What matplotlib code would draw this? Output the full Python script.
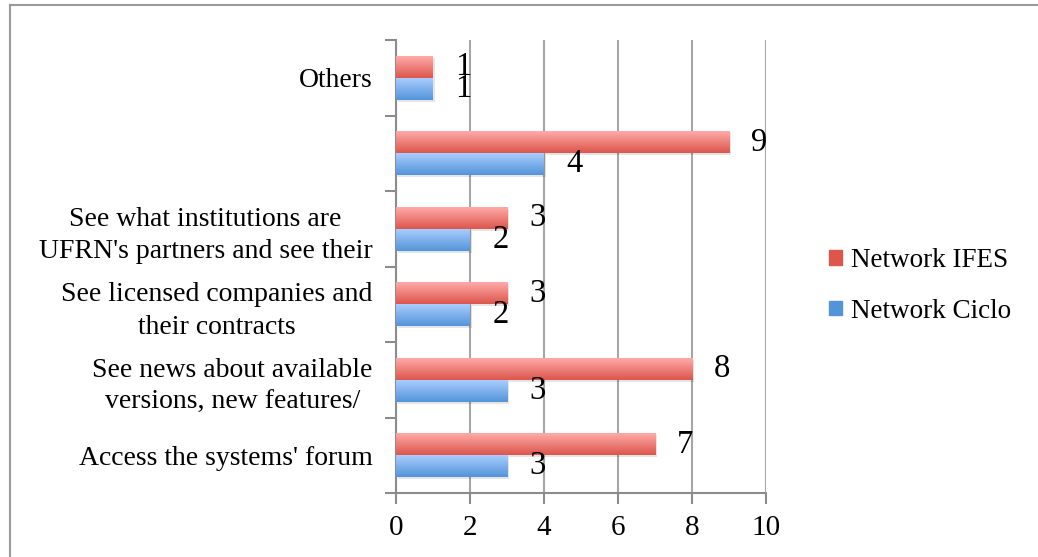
import numpy as np
from matplotlib import pyplot as plt
from matplotlib.lines import Line2D
from matplotlib.patches import Rectangle

plt.rcParams['font.family'] = ['Liberation Serif', 'DejaVu Serif']

# survey answers, bottom category first
categories = ["Access the systems' forum",
              "See news about available\nversions, new features/",
              "See licensed companies and\ntheir contracts",
              "See what institutions are\nUFRN's partners and see their",
              "",
              "Others"]
ifes = [7, 8, 3, 3, 9, 1]
ciclo = [3, 3, 2, 2, 4, 1]

red_top, red_bot = '#ffaaa8', '#dc564c'
blue_top, blue_bot = '#a9cdff', '#5394d9'

fig = plt.figure(figsize=(10.38, 5.57), dpi=100)
ax = fig.add_axes([396/1038, 64/557, 370/1038, 453/557])

# outer frame (top and left edges only visible)
fig.add_artist(Line2D([10/1038, 1], [1-5/557, 1-5/557], color='#9a9a9a', lw=1.5))
fig.add_artist(Line2D([10/1038, 10/1038], [0, 1-5/557], color='#9a9a9a', lw=1.5))

h = 0.29
y = np.arange(len(categories))


def grad_bars(ypos, vals, c_top, c_bot):
    cmap = plt.matplotlib.colors.LinearSegmentedColormap.from_list('g', [c_bot, c_top])
    grad = np.linspace(0, 1, 64).reshape(-1, 1)
    bars = ax.barh(ypos, vals, height=h, color=c_bot, zorder=3)
    for b in bars:
        x0, y0, w, hh = b.get_x(), b.get_y(), b.get_width(), b.get_height()
        # soft shadow
        ax.add_patch(Rectangle((x0 + 0.05, y0 - 0.025), w, hh, color='#000000',
                               alpha=0.10, lw=0, zorder=2))
        im = ax.imshow(grad, cmap=cmap, aspect='auto', origin='lower',
                       extent=[x0, x0 + w, y0, y0 + hh], zorder=4)
        im.set_clip_path(b)
    return bars


rb = grad_bars(y + h/2, ifes, red_top, red_bot)
bb = grad_bars(y - h/2, ciclo, blue_top, blue_bot)

for yy, v in zip(y + h/2, ifes):
    ax.text(v + 0.6, yy, str(v), va='center', ha='left', fontsize=23.5, zorder=5)
for yy, v in zip(y - h/2, ciclo):
    ax.text(v + 0.6, yy, str(v), va='center', ha='left', fontsize=23.5, zorder=5)

ax.set_xlim(0, 10)
ax.set_ylim(-0.5, len(categories) - 0.5)
ax.set_xticks(np.arange(0, 11, 2))
ax.tick_params(axis='x', labelsize=21, length=8, color='#8c8c8c', width=1.5, pad=8)
ax.grid(axis='x', color='#a6a6a6', lw=1.5, zorder=0)

ax.set_yticks(y)
ax.set_yticklabels(categories, fontsize=20, multialignment='center', linespacing=1.4)
ax.tick_params(axis='y', length=0, pad=17)
ax.set_yticks(np.arange(-0.5, len(categories)), minor=True)
ax.tick_params(axis='y', which='minor', length=8, color='#8c8c8c', width=1.5)

for s in ['top', 'right']:
    ax.spines[s].set_visible(False)
for s in ['left', 'bottom']:
    ax.spines[s].set_color('#8c8c8c')
    ax.spines[s].set_linewidth(1.5)

handles = [Rectangle((0, 0), 1, 1, color=red_bot), Rectangle((0, 0), 1, 1, color=blue_bot)]
fig.legend(handles, ['Network IFES', 'Network Ciclo'], loc='center left',
           bbox_to_anchor=(805/1038, 1 - 286/557), frameon=False, fontsize=19.5,
           handlelength=0.45, handleheight=0.45, handletextpad=0.35, labelspacing=0.95)

fig.savefig('out.png', dpi=100)
